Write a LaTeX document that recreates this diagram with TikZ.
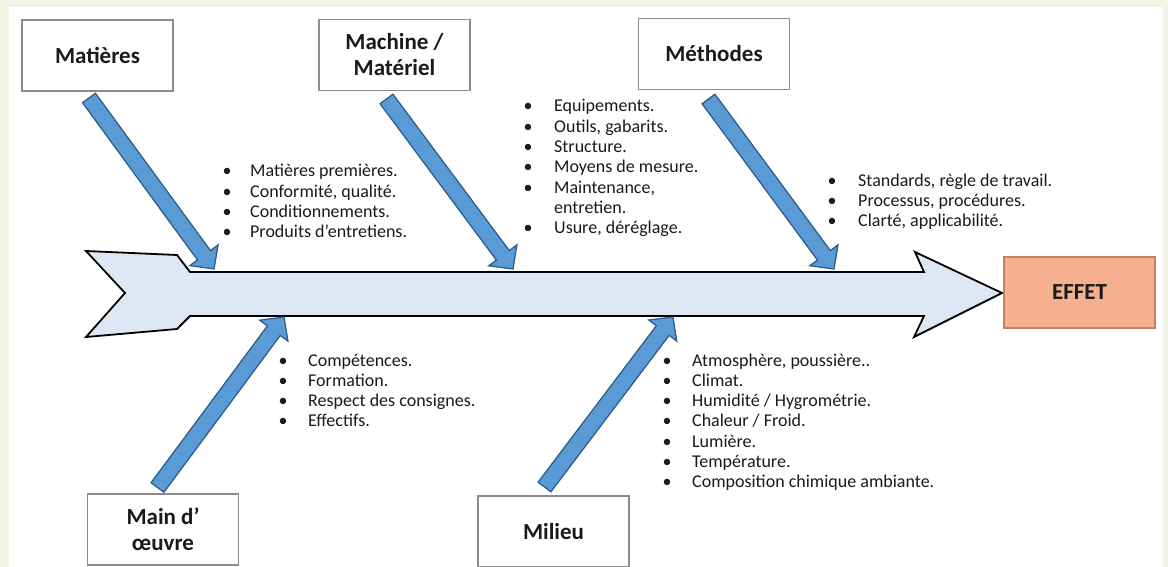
\documentclass[tikz,border=0pt]{standalone}
\usepackage{fontspec}
\setmainfont{Carlito}
\usetikzlibrary{calc}
\definecolor{boxline}{HTML}{8C8C8C}
\definecolor{armfill}{HTML}{5B9BD5}
\definecolor{armline}{HTML}{2F5E8E}
\definecolor{spinefill}{HTML}{DEE8F4}
\definecolor{effetfill}{HTML}{F5B08F}
\definecolor{effetline}{HTML}{C9805F}
\definecolor{framecol}{HTML}{F1F3E4}
\definecolor{txt}{HTML}{1A1A1A}
\newlength\bgap
\setlength\bgap{25pt}
\newcommand\bit[1]{\makebox[0pt][c]{•}\hspace{\bgap}#1}
\newcommand\blk[1]{\hspace{\bgap}#1}
\tikzset{
  catbox/.style={draw=boxline, line width=1.4pt, fill=white, minimum width=151pt,
    minimum height=71pt, inner sep=0pt, align=center,
    font=\fontsize{23}{26}\selectfont\bfseries, text=txt},
  effetbox/.style={catbox, draw=effetline, fill=effetfill},
  listtxt/.style={anchor=base west, inner sep=0pt, text=txt,
    font=\fontsize{18}{20.3}\selectfont},
  spine/.style={draw=black, line width=1.8pt, fill=spinefill, line join=miter},
  armstyle/.style={draw=armline, line width=1.3pt, fill=armfill, line join=miter},
}
\newcommand\arm[2]{%
  \coordinate (#1-h) at ($(#2)!17pt!(#1)$);
  \draw[armstyle] ($(#1)!8pt!90:(#2)$) -- ($(#1-h)!8pt!90:(#2)$)
    -- ($(#1-h)!17.5pt!90:(#2)$) -- (#2) -- ($(#1-h)!17.5pt!-90:(#2)$)
    -- ($(#1-h)!8pt!-90:(#2)$) -- ($(#1)!8pt!-90:(#2)$) -- cycle;}
\begin{document}
\begin{tikzpicture}[x=1pt,y=-1pt]
\useasboundingbox (0,0) rectangle (1168,567);
\fill[framecol] (0,0) rectangle (1168,567);
\fill[white] (9,7) rectangle (1163,567);

% spine
\draw[spine] (86,251) -- (177,255) -- (190,272) -- (924,272) -- (915,252)
  -- (1002,293) -- (914,337) -- (924,316) -- (190,316) -- (177,329)
  -- (86,337) -- (125,293) -- cycle;
\coordinate (spinetip) at (1002,293);

% category boxes
\node[catbox] (mat) at (97.5,55.5) {Matières};
\node[catbox] (mach) at (394.5,55) {Machine /\\Matériel};
\node[catbox] (meth) at (714,54) {Méthodes};
\node[catbox] (main) at (163,529.5) {Main d’\\œuvre};
\node[catbox] (mil) at (553.5,531.5) {Milieu};
\node[effetbox] (effet) at (1079.5,292.5) {EFFET};

% arms
\coordinate (t1) at (89,98);     \coordinate (p1) at (214,269);
\coordinate (t2) at (386.5,99);  \coordinate (p2) at (513,269);
\coordinate (t3) at (708.5,99);  \coordinate (p3) at (834,269);
\coordinate (t4) at (157.5,487.5); \coordinate (p4) at (284,317);
\coordinate (t5) at (544.5,487); \coordinate (p5) at (673,317);
\arm{t1}{p1}
\arm{t2}{p2}
\arm{t3}{p3}
\arm{t4}{p4}
\arm{t5}{p5}

% lists
\node[listtxt] (lmat) at (227,177) {\setlength\bgap{23pt}\begin{tabular}[t]{@{}l@{}}
\bit{Matières premières.}\\
\bit{Conformité, qualité.}\\
\bit{Conditionnements.}\\
\bit{Produits d’entretiens.}
\end{tabular}};
\node[listtxt] (lmach) at (528,112) {\setlength\bgap{26pt}\begin{tabular}[t]{@{}l@{}}
\bit{Equipements.}\\
\bit{Outils, gabarits.}\\
\bit{Structure.}\\
\bit{Moyens de mesure.}\\
\bit{Maintenance,}\\
\blk{entretien.}\\
\bit{Usure, déréglage.}
\end{tabular}};
\node[listtxt] (lmeth) at (832,186) {\setlength\bgap{26pt}\begin{tabular}[t]{@{}l@{}}
\bit{Standards, règle de travail.}\\
\bit{Processus, procédures.}\\
\bit{Clarté, applicabilité.}
\end{tabular}};
\node[listtxt] (lmain) at (283,366) {\begin{tabular}[t]{@{}l@{}}
\bit{Compétences.}\\
\bit{Formation.}\\
\bit{Respect des consignes.}\\
\bit{Effectifs.}
\end{tabular}};
\node[listtxt] (lmil) at (667,366) {\begin{tabular}[t]{@{}l@{}}
\bit{Atmosphère, poussière..}\\
\bit{Climat.}\\
\bit{Humidité / Hygrométrie.}\\
\bit{Chaleur / Froid.}\\
\bit{Lumière.}\\
\bit{Température.}\\
\bit{Composition chimique ambiante.}
\end{tabular}};
\end{tikzpicture}
\end{document}
